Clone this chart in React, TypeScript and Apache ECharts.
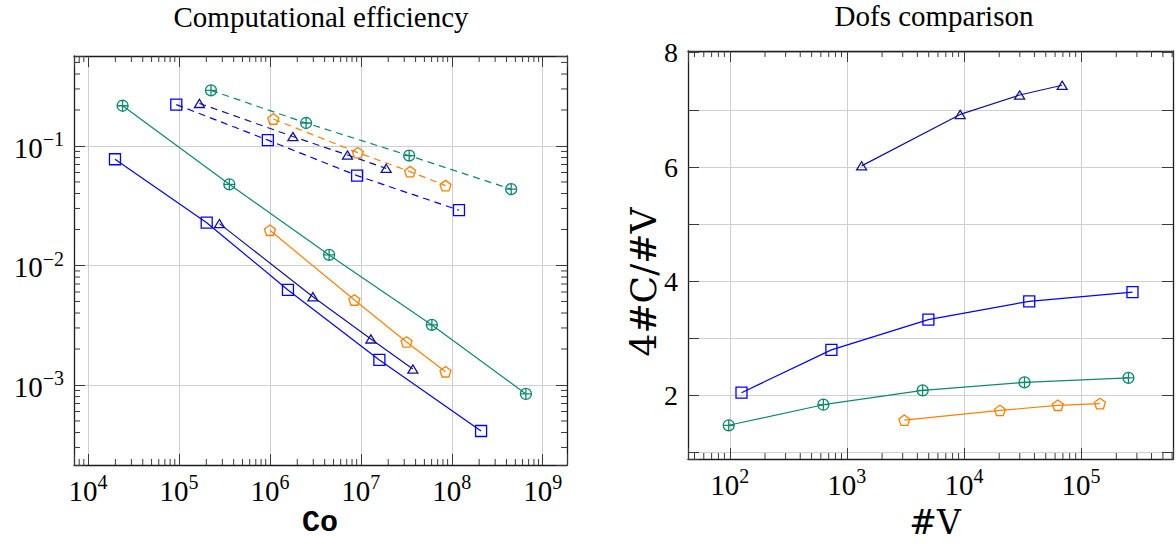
import React, { useEffect, useRef } from 'react';
import * as echarts from 'echarts';

// ---------- Left chart: Computational efficiency (Co vs error) ----------
const blueSolidCo = [1.98e4, 2.02e5, 1.58e6, 1.6e7, 2.1e8];
const blueSolidErr = [0.0774, 0.0228, 0.00624, 0.00162, 0.000412];
const blueDashedCo = [9.35e4, 9.5e5, 9.1e6, 1.2e8];
const blueDashedErr = [0.222, 0.112, 0.0565, 0.029];

const navySolidCo = [2.79e5, 2.97e6, 1.29e7, 3.73e7];
const navySolidErr = [0.0224, 0.00548, 0.00243, 0.00136];
const navyDashedCo = [1.68e5, 1.79e6, 7.13e6, 1.9e7];
const navyDashedErr = [0.227, 0.12, 0.084, 0.065];

const orangeSolidCo = [1.0e6, 8.5e6, 3.18e7, 8.53e7];
const orangeSolidErr = [0.0197, 0.00514, 0.00229, 0.00129];
const orangeDashedCo = [1.09e6, 9.27e6, 3.48e7, 8.53e7];
const orangeDashedErr = [0.168, 0.0879, 0.061, 0.0466];

const tealSolidCo = [2.4e4, 3.58e5, 4.48e6, 6.04e7, 6.53e8];
const tealSolidErr = [0.217, 0.0478, 0.01225, 0.00318, 0.000841];
const tealDashedCo = [2.25e5, 2.5e6, 3.4e7, 4.5e8];
const tealDashedErr = [0.292, 0.1556, 0.083, 0.0435];

// ---------- Right chart: Dofs comparison (#V vs 4#C/#V) ----------
const navyV = [1337, 9290, 29900, 69000];
const navyRatio = [6.02, 6.92, 7.26, 7.43];
const blueV = [126, 738, 4970, 36100, 275000];
const blueRatio = [2.05, 2.8, 3.33, 3.65, 3.81];
const tealV = [98, 630, 4440, 32900, 254000];
const tealRatio = [1.48, 1.84, 2.09, 2.23, 2.31];
const orangeV = [3100, 20300, 63400, 145000];
const orangeRatio = [1.57, 1.74, 1.83, 1.86];

// axis limits
const leftXMin = 7015;
const leftXMax = 1.849e9;
const leftYMin = 2.14e-4;
const leftYMax = 0.566;
const rightXMin = 44;
const rightXMax = 6.1e5;
const rightYMin = 0.89;
const rightYMax = 8.03;
const rightYTicks = [2, 4, 6, 8];

const titles = ['Computational efficiency', 'Dofs comparison'];
const axisNames = ['Co', '#V', '4#C/#V'];

const BLUE = '#0000ff';
const NAVY = '#12129c';
const ORANGE = '#ff8000';
const TEAL = '#0d8a6d';
const FRAME = '#1c1c1c';
const GRIDC = '#cfcfcf';
const TICKC = '#3a3a3a';
const SERIF = 'Liberation Serif, serif';
const SERIF2 = 'DejaVu Serif, serif';
const MONO = 'Liberation Mono, monospace';

const SQUARE = 'path://M0,0L10,0L10,10L0,10Z';
const TRIANGLE = 'path://M5,0L10,8.2L0,8.2Z';
const PENTAGON = 'path://M10,0L19.51,6.91L15.88,18.09L4.12,18.09L0.49,6.91Z';
const OPLUS = 'path://M0,10A10,10,0,1,1,20,10A10,10,0,1,1,0,10ZM10,0L10,20M0,10L20,10';

const MAJOR_LEN = 11;
const MINOR_LEN = 6;

function logMinor(min: number, max: number): number[] {
  const out: number[] = [];
  const k0 = Math.floor(Math.log10(min));
  const k1 = Math.ceil(Math.log10(max));
  for (let k = k0; k <= k1; k++) {
    for (let m = 2; m <= 9; m++) {
      const v = m * Math.pow(10, k);
      if (v > min && v < max) out.push(v);
    }
  }
  return out;
}

const richLabel = {
  b: { fontFamily: SERIF, fontSize: 29, color: '#000', verticalAlign: 'bottom', padding: [4, 0, 0, 0] },
  s: { fontFamily: SERIF, fontSize: 20, color: '#000', verticalAlign: 'top' },
};

function powLabel(v: number): string {
  const e = Math.log10(v);
  const r = Math.round(e);
  if (Math.abs(e - r) > 1e-6) return '';
  const exp = r < 0 ? '\u2212' + -r : String(r);
  return `{b|10}{s|${exp}}`;
}

function logAxis(gridIndex: number, min: number, max: number, position: string, mirror: boolean, labelMargin: number) {
  return {
    type: 'log',
    logBase: 10,
    gridIndex,
    min,
    max,
    position,
    axisLine: { show: true, onZero: false, lineStyle: { color: FRAME, width: 1.3 } },
    axisTick: { show: true, inside: true, length: MAJOR_LEN, lineStyle: { color: TICKC, width: 1 } },
    minorTick: { show: false },
    axisLabel: mirror
      ? { show: false }
      : {
          show: true,
          margin: labelMargin,
          formatter: powLabel,
          rich: richLabel,
          color: '#000',
          fontFamily: SERIF,
          fontSize: 29,
        },
    splitLine: { show: !mirror, lineStyle: { color: GRIDC, width: 1 } },
  };
}

function valueAxis(gridIndex: number, position: string, mirror: boolean) {
  return {
    type: 'value',
    gridIndex,
    min: rightYMin,
    max: rightYMax,
    position,
    axisLine: { show: true, onZero: false, lineStyle: { color: FRAME, width: 1.3 } },
    axisTick: { show: true, inside: true, length: MAJOR_LEN, lineStyle: { color: TICKC, width: 1 } },
    axisLabel: mirror
      ? { show: false }
      : {
          show: true,
          margin: 10,
          color: '#000',
          fontFamily: SERIF,
          fontSize: 28,
          formatter: (v: number) => (rightYTicks.some((t) => Math.abs(t - v) < 1e-9) ? String(Math.round(v)) : ''),
        },
    splitLine: { show: !mirror, lineStyle: { color: GRIDC, width: 1 } },
  };
}

function lineSeries(xs: number[], ys: number[], color: string, symbol: string, size: number | number[], dashed: boolean, axis: number) {
  return {
    type: 'line',
    xAxisIndex: axis,
    yAxisIndex: axis,
    data: xs.map((x, i) => [x, ys[i]]),
    symbol,
    symbolSize: size,
    symbolKeepAspect: true,
    showAllSymbol: true,
    lineStyle: { color, width: 1.2, type: dashed ? [7, 5] : 'solid' },
    itemStyle: { color: 'rgba(255,255,255,0)', borderColor: color, borderWidth: 1.3 },
    emphasis: { disabled: true },
    silent: true,
    z: 3,
  };
}

function minorTicks(axis: number, xs: number[], ys: number[], ref: number[]) {
  return {
    type: 'custom',
    xAxisIndex: axis,
    yAxisIndex: axis,
    silent: true,
    clip: false,
    z: 4,
    data: [ref],
    renderItem: (params: any, api: any) => {
      const cs = params.coordSys;
      const children: any[] = [];
      const st = { stroke: TICKC, lineWidth: 1 };
      xs.forEach((v) => {
        const px = api.coord([v, ref[1]])[0];
        children.push({ type: 'line', shape: { x1: px, y1: cs.y + cs.height, x2: px, y2: cs.y + cs.height - MINOR_LEN }, style: st });
        children.push({ type: 'line', shape: { x1: px, y1: cs.y, x2: px, y2: cs.y + MINOR_LEN }, style: st });
      });
      ys.forEach((v) => {
        const py = api.coord([ref[0], v])[1];
        children.push({ type: 'line', shape: { x1: cs.x, y1: py, x2: cs.x + MINOR_LEN, y2: py }, style: st });
        children.push({ type: 'line', shape: { x1: cs.x + cs.width, y1: py, x2: cs.x + cs.width - MINOR_LEN, y2: py }, style: st });
      });
      return { type: 'group', children };
    },
  };
}

export default function App() {
  const ref = useRef<HTMLDivElement>(null);
  useEffect(() => {
    if (!ref.current) return;
    const chart = echarts.init(ref.current, undefined, { renderer: 'svg' });
    const option: any = {
      animation: false,
      backgroundColor: '#ffffff',
      textStyle: { fontFamily: SERIF },
      grid: [
        { left: 74, top: 56, width: 493, height: 409 },
        { left: 688, top: 51, width: 493, height: 408 },
      ],
      xAxis: [
        logAxis(0, leftXMin, leftXMax, 'bottom', false, 7),
        logAxis(0, leftXMin, leftXMax, 'top', true, 0),
        logAxis(1, rightXMin, rightXMax, 'bottom', false, 7),
        logAxis(1, rightXMin, rightXMax, 'top', true, 0),
      ],
      yAxis: [
        logAxis(0, leftYMin, leftYMax, 'left', false, 10),
        logAxis(0, leftYMin, leftYMax, 'right', true, 0),
        valueAxis(1, 'left', false),
        valueAxis(1, 'right', true),
      ],
      series: [
        lineSeries(blueSolidCo, blueSolidErr, BLUE, SQUARE, 11, false, 0),
        lineSeries(blueDashedCo, blueDashedErr, BLUE, SQUARE, 11, true, 0),
        lineSeries(navySolidCo, navySolidErr, NAVY, TRIANGLE, 10, false, 0),
        lineSeries(navyDashedCo, navyDashedErr, NAVY, TRIANGLE, 10, true, 0),
        lineSeries(orangeSolidCo, orangeSolidErr, ORANGE, PENTAGON, 11, false, 0),
        lineSeries(orangeDashedCo, orangeDashedErr, ORANGE, PENTAGON, 11, true, 0),
        lineSeries(tealSolidCo, tealSolidErr, TEAL, OPLUS, 11, false, 0),
        lineSeries(tealDashedCo, tealDashedErr, TEAL, OPLUS, 11, true, 0),
        lineSeries(navyV, navyRatio, NAVY, TRIANGLE, 10, false, 2),
        lineSeries(blueV, blueRatio, BLUE, SQUARE, 11, false, 2),
        lineSeries(tealV, tealRatio, TEAL, OPLUS, 11, false, 2),
        lineSeries(orangeV, orangeRatio, ORANGE, PENTAGON, 11, false, 2),
        minorTicks(0, logMinor(leftXMin, leftXMax), logMinor(leftYMin, leftYMax), [1e6, 0.01]),
        minorTicks(2, logMinor(rightXMin, rightXMax), [], [1000, 4]),
      ],
      graphic: [
        { type: 'text', x: 321, y: 16.5, style: { text: titles[0], fontFamily: SERIF, fontSize: 29, fill: '#000', align: 'center', verticalAlign: 'middle' } },
        { type: 'text', x: 934, y: 15.5, style: { text: titles[1], fontFamily: SERIF, fontSize: 29, fill: '#000', align: 'center', verticalAlign: 'middle' } },
        { type: 'text', x: 320, y: 523, style: { text: axisNames[0], fontFamily: MONO, fontSize: 30, fontWeight: 'bold', fill: '#000', align: 'center', verticalAlign: 'middle' } },
        { type: 'text', x: 935, y: 522, style: { text: axisNames[1], fontFamily: SERIF2, fontSize: 33, fill: '#000', align: 'center', verticalAlign: 'middle' } },
        { type: 'text', x: 643, y: 282, rotation: Math.PI / 2, style: { text: axisNames[2], fontFamily: SERIF2, fontSize: 36, fill: '#000', align: 'center', verticalAlign: 'middle' } },
      ],
    };
    chart.setOption(option);
    return () => chart.dispose();
  }, []);
  return (
    <div style={{ position: 'absolute', left: 0, top: 0, width: 1176, height: 544, overflow: 'hidden', background: '#fff' }}>
      <div ref={ref} style={{ width: 1176, height: 544 }} />
    </div>
  );
}
